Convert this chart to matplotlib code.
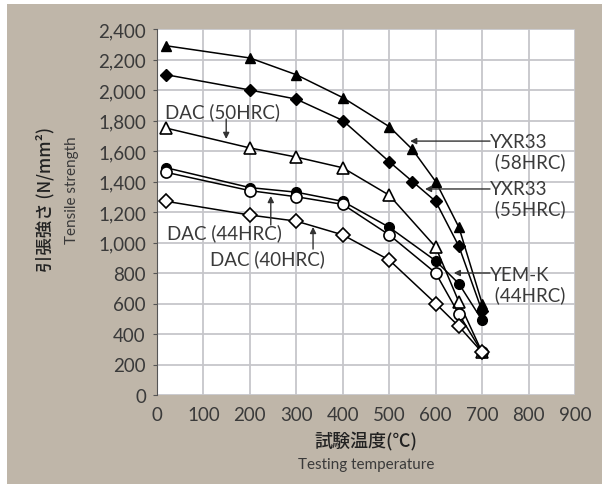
import matplotlib
matplotlib.use('Agg')
import matplotlib.pyplot as plt
from matplotlib.patches import Rectangle
from matplotlib.ticker import FuncFormatter

plt.rcParams['font.family'] = ['Lato', 'Noto Sans CJK JP', 'DejaVu Sans']

# data (temperature in deg C, strength in N/mm2)
temps_a = [20, 200, 300, 400, 500, 550, 600, 650, 700]
yxr33_58 = [2290, 2210, 2100, 1950, 1760, 1610, 1400, 1100, 600]
yxr33_55 = [2100, 2000, 1940, 1800, 1530, 1400, 1270, 975, 550]

temps_b = [20, 200, 300, 400, 500, 600, 650, 700]
dac_50 = [1750, 1620, 1560, 1490, 1310, 970, 610, 280]
yemk_44 = [1490, 1360, 1330, 1270, 1100, 880, 730, 490]
dac_44 = [1460, 1340, 1300, 1250, 1050, 800, 530, 280]
dac_40 = [1270, 1180, 1140, 1050, 885, 600, 450, 280]

x_ticks = [0, 100, 200, 300, 400, 500, 600, 700, 800, 900]
y_ticks = [0, 200, 400, 600, 800, 1000, 1200, 1400, 1600, 1800, 2000, 2200, 2400]

bg = '#bfb6a9'
txt = '#3a3a3a'

fig = plt.figure(figsize=(6.02, 4.85), dpi=100)
fig.patch.set_facecolor('white')
fig.patches.append(Rectangle((7 / 602, 0), 1, 1 - 5 / 485, transform=fig.transFigure,
                             facecolor=bg, edgecolor='none', zorder=-10))

ax = fig.add_axes([157 / 602, 1 - 396 / 485, 418 / 602, 366 / 485])
ax.set_facecolor('white')
ax.set_xlim(0, 900)
ax.set_ylim(0, 2400)
ax.set_xticks(x_ticks)
ax.set_yticks(y_ticks)
ax.yaxis.set_major_formatter(FuncFormatter(lambda v, p: f'{v:,.0f}'))
ax.grid(True, color='#c6c6ca', linewidth=1.3)
ax.set_axisbelow(True)
for s in ['top', 'right', 'bottom']:
    ax.spines[s].set_visible(False)
ax.spines['left'].set_color('#555555')
ax.spines['left'].set_linewidth(0.8)
ax.tick_params(axis='y', length=3, width=0.8, color='#555555', pad=5, labelsize=13.5, labelcolor=txt)
ax.tick_params(axis='x', length=0, pad=8, labelsize=13.5, labelcolor=txt)

lk = dict(color='black', linewidth=1.1)
ax.plot(temps_a, yxr33_58, marker='^', markersize=7, mfc='black', mec='black', **lk)
ax.plot(temps_a, yxr33_55, marker='D', markersize=6, mfc='black', mec='black', **lk)
ax.plot(temps_b, dac_50, marker='^', markersize=8, mfc='white', mec='black', mew=1.2, **lk)
ax.plot(temps_b, yemk_44, marker='o', markersize=7, mfc='black', mec='black', **lk)
ax.plot(temps_b, dac_44, marker='o', markersize=8, mfc='white', mec='black', mew=1.2, **lk)
ax.plot(temps_b, dac_40, marker='D', markersize=7, mfc='white', mec='black', mew=1.2, **lk)

ap = dict(arrowstyle='-|>', color='#333333', lw=1.0, mutation_scale=9, shrinkA=0, shrinkB=0)
fs = 13.5

# DAC(50HRC)
ax.text(17, 1862, 'DAC (50HRC)', fontsize=fs, color=txt, va='center', ha='left')
ax.annotate('', xy=(149, 1679), xytext=(149, 1810), arrowprops=ap)
# DAC(44HRC)
ax.text(21, 1069, 'DAC (44HRC)', fontsize=fs, color=txt, va='center', ha='left')
ax.annotate('', xy=(245, 1305), xytext=(245, 1115), arrowprops=ap)
# DAC(40HRC)
ax.text(114, 898, 'DAC (40HRC)', fontsize=fs, color=txt, va='center', ha='left')
ax.annotate('', xy=(336, 1102), xytext=(336, 957), arrowprops=ap)
# YXR33 (58HRC)
ax.annotate('', xy=(545, 1665), xytext=(717, 1665), arrowprops=ap)
ax.text(717, 1596, 'YXR33\n (58HRC)', fontsize=fs, color=txt, va='center', ha='left', linespacing=1.15)
# YXR33 (55HRC)
ax.annotate('', xy=(577, 1351), xytext=(717, 1351), arrowprops=ap)
ax.text(717, 1285, 'YXR33\n (55HRC)', fontsize=fs, color=txt, va='center', ha='left', linespacing=1.15)
# YEM-K (44HRC)
ax.annotate('', xy=(639, 800), xytext=(717, 800), arrowprops=ap)
ax.text(717, 725, 'YEM-K\n (44HRC)', fontsize=fs, color=txt, va='center', ha='left', linespacing=1.15)

# axis titles
jp = ['Noto Sans CJK JP', 'DejaVu Sans']
fig.text(45 / 602, 1 - 200 / 485, '引張強さ (N/mm²)', rotation=90, fontsize=12.5, family=jp,
         fontweight='medium', color='#222222', ha='center', va='center')
fig.text(72 / 602, 1 - 190 / 485, 'Tensile strength', rotation=90, fontsize=11,
         color=txt, ha='center', va='center')
fig.text(366 / 602, 1 - 442 / 485, '試験温度(℃)', fontsize=13, family=jp,
         fontweight='medium', color='#222222', ha='center', va='center')
fig.text(366 / 602, 1 - 465 / 485, 'Testing temperature', fontsize=11, color=txt,
         ha='center', va='center')

fig.savefig('out.png', dpi=100, facecolor=fig.get_facecolor())
